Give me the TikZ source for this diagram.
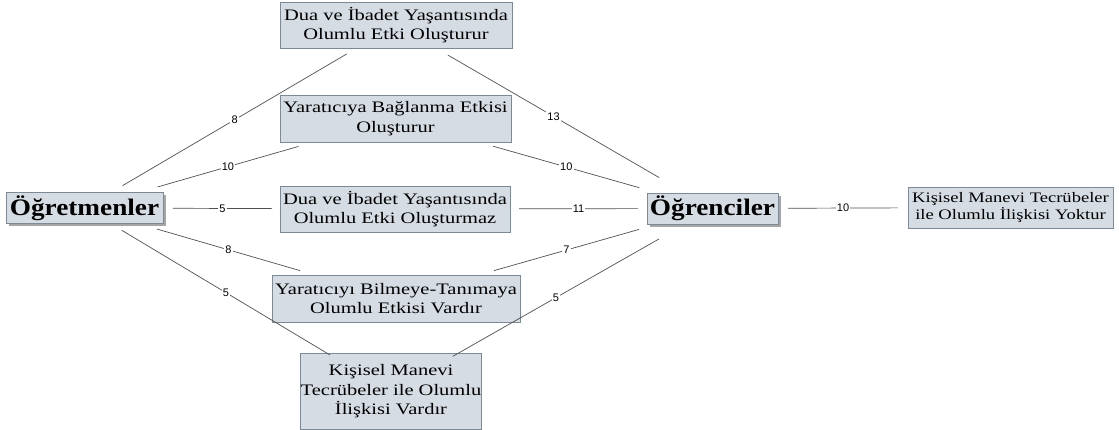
\documentclass[tikz,border=0pt]{standalone}
\usepackage{fontspec}
\setmainfont{Liberation Serif}
\newfontfamily\boxfont[FakeStretch=1.28]{Liberation Serif}
\newfontfamily\headfont[FakeStretch=1.15]{Liberation Serif}
\newfontfamily\numfont{Liberation Sans}
\usetikzlibrary{calc,shadows}

\definecolor{boxfill}{HTML}{D5DCE3}
\definecolor{boxline}{HTML}{7D8A96}
\definecolor{linkgray}{HTML}{505050}

\tikzset{
  topic/.style={draw=boxline, fill=boxfill, line width=0.8pt, align=center,
    inner sep=0pt, font=\boxfont\fontsize{16}{19.5}\selectfont},
  smalltopic/.style={topic, font=\boxfont\fontsize{14.5}{17.7}\selectfont},
  actor/.style={draw=boxline, fill=boxfill, line width=0.8pt, inner sep=0pt,
    font=\headfont\bfseries\fontsize{23.7}{26}\selectfont,
    drop shadow={shadow xshift=3pt, shadow yshift=-3pt, fill=black!35, opacity=1}},
  link/.style={draw=linkgray, line width=0.7pt},
  num/.style={midway, fill=white, inner sep=1.2pt,
    font=\numfont\fontsize{11}{12}\selectfont}
}

\begin{document}
\begin{tikzpicture}[x=1pt, y=-1pt]
\useasboundingbox (0,0) rectangle (1119,430);

% the two groups
\node[actor, minimum width=157pt, minimum height=31pt] (T) at (84.5,208) {Öğretmenler};
\node[actor, minimum width=131pt, minimum height=31pt] (S) at (712.5,208.5) {Öğrenciler};

% answers
\node[topic, minimum width=232pt, minimum height=46pt] (A) at (396,25)
  {Dua ve İbadet Yaşantısında\\Olumlu Etki Oluşturur};
\node[topic, minimum width=231pt, minimum height=47pt] (B) at (395.5,118.5)
  {Yaratıcıya Bağlanma Etkisi\\Oluşturur};
\node[topic, minimum width=230pt, minimum height=46pt] (C) at (395,209)
  {Dua ve İbadet Yaşantısında\\Olumlu Etki Oluşturmaz};
\node[topic, minimum width=248pt, minimum height=47pt] (D) at (396,298.5)
  {Yaratıcıyı Bilmeye-Tanımaya\\Olumlu Etkisi Vardır};
\node[topic, minimum width=178pt, minimum height=76pt] (E) at (391,391.5)
  {Kişisel Manevi\\Tecrübeler ile Olumlu\\İlişkisi Vardır};
\node[smalltopic, minimum width=205pt, minimum height=41pt] (R) at (1010.5,207.5)
  {Kişisel Manevi Tecrübeler\\ile Olumlu İlişkisi Yoktur};

% teachers' links
\draw[link] ($(T)!44pt!(A)$) -- node[num]{8} ($(A)!57pt!(T)$);
\draw[link] ($(T)!76pt!(B)$) -- node[num]{10} ($(B)!101pt!(T)$);
\draw[link] ($(T)!88.5pt!(C)$) -- node[num]{5} ($(C)!123pt!(T)$);
\draw[link] ($(T)!75.5pt!(D)$) -- node[num]{8} ($(D)!100pt!(T)$);
\draw[link] ($(T)!43.5pt!(E)$) -- node[num]{5} ($(E)!71pt!(T)$);

% students' links
\draw[link] ($(S)!61.5pt!(A)$) -- node[num]{13} ($(A)!60pt!(S)$);
\draw[link] ($(S)!76pt!(B)$) -- node[num]{10} ($(B)!101.5pt!(S)$);
\draw[link] ($(S)!74.5pt!(C)$) -- node[num]{11} ($(C)!124pt!(S)$);
\draw[link] ($(S)!76.5pt!(D)$) -- node[num]{7} ($(D)!102pt!(S)$);
\draw[link] ($(S)!61.5pt!(E)$) -- node[num]{5} ($(E)!71pt!(S)$);
\draw[link] ($(S)!75.5pt!(R)$) -- node[num]{10} ($(R)!112.5pt!(S)$);
\end{tikzpicture}
\end{document}
